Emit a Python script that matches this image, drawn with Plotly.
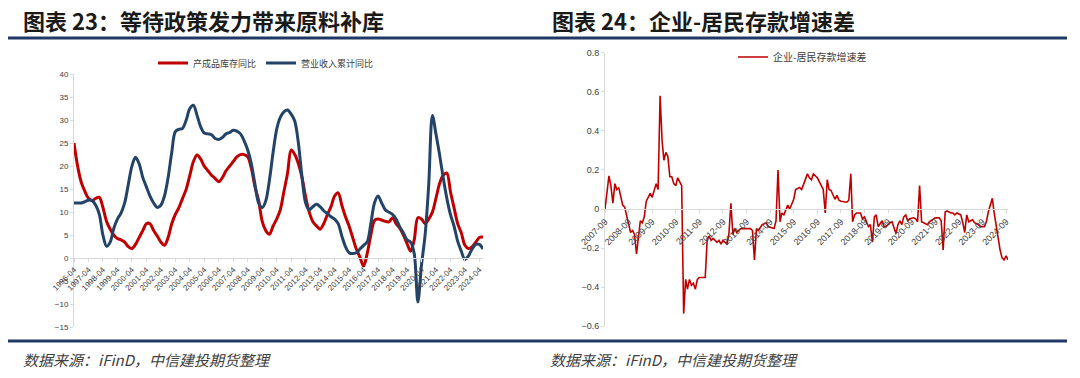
import plotly.graph_objects as go
import pandas as pd

# ---------------- Left chart data (quarterly readings, %) ----------------
left_start = "1996-04-01"
left_end = "2024-07-01"
left_dates = pd.date_range(left_start, left_end, freq="3MS").strftime("%Y-%m-%d").tolist()

inventory_yoy = [  # 产成品库存同比
    25, 20, 16.5,
    14.5, 13, 12.5, 13,
    13.2, 11, 8, 6.3,
    5, 4.3, 4, 3.5,
    2.5, 2.1, 3, 4.5,
    6, 7.5, 7.5, 6,
    4.8, 3.5, 2.8, 4.5,
    7.5, 9.5, 11, 13,
    15, 18, 21, 22.4,
    21.5, 20, 19, 18,
    17.3, 16.6, 17.5, 19,
    20, 21, 22, 22.5,
    22.5, 22, 19.5, 15.5,
    12.5, 8, 6, 5.2,
    7, 8.5, 10.5, 14.5,
    18.5, 23.5, 22.5, 20.5,
    17.5, 13.3, 10, 7.9,
    7, 6.3, 7.5, 9.5,
    11.2, 13.5, 14.2, 11.5,
    9, 7, 4.5, 2,
    0.2, -1.7, 1, 5,
    8.2, 8.5, 8.3, 8,
    7.9, 8.8, 7.5, 6.5,
    5, 3.2, 1.5, 4,
    8.8, 8.5, 7.5, 8.5,
    10, 13, 16.2, 18,
    18.5, 14.5, 11, 7.5,
    5.5, 2.8, 2.1, 2.5,
    3.5, 4.5, 4.6,
]

revenue_yoy = [  # 营业收入累计同比
    12, 12, 12,
    12.3, 12.6, 12.5, 11.5,
    9.5, 5, 2.6, 3.5,
    6.5, 8.5, 9.8, 12,
    16, 20, 21.9, 20.5,
    17.5, 15.5, 13.5, 12,
    11, 11.5, 13.5, 17.5,
    23, 27.5, 28, 28.2,
    30, 32.5, 33.2, 31,
    28.5, 27.2, 27, 26.8,
    26, 25.8, 26.2, 27,
    27.3, 27.8, 27.6, 27,
    25.5, 23.5, 20.5, 16,
    12, 11, 12.5, 17,
    23, 28, 30.6, 31.8,
    32.2, 31.3, 29.8, 25,
    17.5, 12, 10.5, 11.2,
    11.7, 11.2, 10.3, 9.7,
    9, 8.5, 7.5, 4.8,
    2.5, 1.2, 1.0, 1.2,
    2, 2.8, 3.5, 7.5,
    12, 13.5, 12, 10.5,
    10, 9.5, 8.5, 6.8,
    5.5, 4, 3.5, 1,
    -9.5, -1.5, 5, 16,
    31, 27, 22.5, 17.5,
    13, 9.5, 7, 3.7,
    1.5, -0.3, 0.5, 2,
    3, 3, 2,
]

left_tick_text = [f"{y}-04" for y in range(1996, 2025)]
left_tick_vals = [f"{y}-04-01" for y in range(1996, 2025)]
left_y_ticks = [40, 35, 30, 25, 20, 15, 10, 5, 0, -5, -10, -15]

# ---------------- Right chart data (monthly readings) ----------------
right_dates = [
    "2007-09", "2007-10", "2007-11", "2007-12",
    "2008-01", "2008-02", "2008-03", "2008-04", "2008-05", "2008-06", "2008-07", "2008-08", "2008-10", "2008-11", "2008-12",
    "2009-01", "2009-02", "2009-03", "2009-04", "2009-05", "2009-06", "2009-08", "2009-09", "2009-10", "2009-11", "2009-12",
    "2010-01", "2010-02", "2010-03", "2010-04", "2010-05", "2010-06", "2010-07", "2010-08", "2010-09", "2010-10", "2010-11", "2010-12",
    "2011-01", "2011-02", "2011-03", "2011-04", "2011-05", "2011-06", "2011-07", "2011-08", "2011-09", "2011-10", "2011-12",
    "2012-01", "2012-02", "2012-03", "2012-04", "2012-06", "2012-07", "2012-08", "2012-09", "2012-11", "2012-12",
    "2013-01", "2013-02", "2013-03", "2013-04", "2013-06", "2013-07", "2013-09", "2013-11", "2013-12",
    "2014-01", "2014-02", "2014-03", "2014-05", "2014-07", "2014-08", "2014-11", "2014-12",
    "2015-01", "2015-02", "2015-03", "2015-04", "2015-06", "2015-07", "2015-09", "2015-10", "2015-12",
    "2016-01", "2016-03", "2016-04", "2016-05", "2016-06", "2016-07", "2016-09", "2016-10", "2016-11", "2016-12",
    "2017-01", "2017-02", "2017-03", "2017-04", "2017-06", "2017-07", "2017-08", "2017-09", "2017-12",
    "2018-01", "2018-02", "2018-03", "2018-04", "2018-05", "2018-07", "2018-08", "2018-09", "2018-10", "2018-11", "2018-12",
    "2019-01", "2019-02", "2019-03", "2019-04", "2019-06", "2019-07", "2019-08", "2019-10", "2019-11",
    "2020-01", "2020-02", "2020-03", "2020-04", "2020-05", "2020-06", "2020-07", "2020-08", "2020-10", "2020-11", "2020-12",
    "2021-01", "2021-02", "2021-03", "2021-05", "2021-06", "2021-09", "2021-11", "2021-12",
    "2022-01", "2022-02", "2022-03", "2022-05", "2022-06", "2022-07", "2022-08", "2022-10", "2022-11", "2022-12",
    "2023-01", "2023-02", "2023-04", "2023-05", "2023-07", "2023-08", "2023-10", "2023-11", "2023-12",
    "2024-02", "2024-03", "2024-04", "2024-05", "2024-06", "2024-07", "2024-08", "2024-09", "2024-10",
]
deposit_gap = [  # 企业-居民存款增速差
    0.0, 0.10, 0.17, 0.12,
    0.03, 0.13, 0.10, 0.11, 0.06, 0.02, 0.01, -0.04, -0.12, -0.11, -0.13,
    -0.23, -0.14, -0.06, -0.07, -0.04, 0.04, 0.08, 0.06, 0.10, 0.13, 0.10,
    0.58, 0.35, 0.25, 0.29, 0.27, 0.165, 0.165, 0.13, 0.12, 0.16, 0.14, 0.12,
    -0.535, -0.36, -0.41, -0.36, -0.39, -0.38, -0.41, -0.36, -0.35, -0.35, -0.35,
    -0.15, -0.14, -0.16, -0.15, -0.17, -0.16, -0.18, -0.16, -0.18, -0.13,
    0.03, -0.13, -0.10, -0.12, -0.10, -0.10, -0.10, -0.10, -0.11,
    -0.26, -0.10, -0.11, -0.08, -0.07, -0.09, -0.10, -0.06,
    0.20, -0.065, -0.02, -0.03, 0.02, 0.0, 0.05, 0.10, 0.11,
    0.10, 0.16, 0.18, 0.16, 0.15, 0.18, 0.16, 0.14, 0.12, 0.10,
    -0.02, 0.15, 0.10, 0.095, 0.05, 0.07, 0.045, 0.04, 0.035,
    0.045, 0.18, -0.065, -0.03, -0.02, -0.02, -0.05, -0.04, -0.065, -0.09, -0.08,
    -0.17, -0.04, -0.03, -0.09, -0.06, -0.09, -0.09, -0.07, -0.065,
    -0.125, -0.08, -0.06, -0.08, -0.04, -0.03, -0.06, -0.05, -0.045, -0.05, -0.065,
    0.12, -0.065, -0.07, -0.08, -0.065, -0.045, -0.045, -0.06,
    -0.21, -0.015, -0.01, -0.02, -0.02, -0.03, -0.02, -0.03, -0.07, -0.12,
    -0.03, -0.065, -0.055, -0.07, -0.08, -0.09, -0.09, -0.065, -0.015,
    0.055, -0.02, -0.08, -0.16, -0.21, -0.25, -0.26, -0.24, -0.26,
]
right_tick_text = [f"{y}-09" for y in range(2007, 2025)]
right_tick_vals = [f"{y}-09-01" for y in range(2007, 2025)]
right_y_ticks = [0.8, 0.6, 0.4, 0.2, 0, -0.2, -0.4, -0.6]

# ---------------- Styling ----------------
W, H = 1080, 378
RED = "#C00000"
BLUE = "#234369"
NAVY = "#1F3864"
AXIS = "#D9D9D9"
TICKC = "#404040"
CJK = "Noto Sans CJK SC"


def px(x):
    return x / W


def py(y):
    return 1 - y / H


fig = go.Figure()
fig.add_trace(go.Scatter(x=left_dates, y=inventory_yoy, name="产成品库存同比", mode="lines",
                         line=dict(color=RED, width=3, shape="spline", smoothing=0.9),
                         xaxis="x", yaxis="y", legend="legend"))
fig.add_trace(go.Scatter(x=left_dates, y=revenue_yoy, name="营业收入累计同比", mode="lines",
                         line=dict(color=BLUE, width=3, shape="spline", smoothing=0.9),
                         xaxis="x", yaxis="y", legend="legend"))
fig.add_trace(go.Scatter(x=right_dates, y=deposit_gap, name="企业-居民存款增速差", mode="lines",
                         line=dict(color=RED, width=1.6),
                         xaxis="x2", yaxis="y2", legend="legend2"))

common_x = dict(type="date", showline=True, linecolor=AXIS, linewidth=1, ticks="outside",
                ticklen=3, tickcolor=AXIS, tickangle=-45, showgrid=False, zeroline=False,
                anchor="free", automargin=False)
common_y = dict(showline=True, linecolor=AXIS, linewidth=1, ticks="outside", ticklen=3,
                tickcolor=AXIS, showgrid=False, zeroline=False, automargin=False)

fig.update_layout(
    width=W, height=H, margin=dict(l=0, r=0, t=0, b=0, pad=0, autoexpand=False),
    autosize=False,
    paper_bgcolor="white", plot_bgcolor="white",
    xaxis=dict(common_x, domain=[px(74), px(483)], position=py(258),
               range=[left_start, left_end], tickvals=left_tick_vals, ticktext=left_tick_text,
               tickfont=dict(family="Liberation Sans", size=8, color=TICKC)),
    yaxis=dict(common_y, domain=[py(327.3), py(74)], range=[-15, 40], anchor="x",
               tickvals=left_y_ticks,
               tickfont=dict(family="Liberation Sans", size=8, color=TICKC)),
    xaxis2=dict(common_x, domain=[px(605), px(1008)], position=py(209),
                range=["2007-09-01", "2024-10-01"], tickvals=right_tick_vals, ticktext=right_tick_text,
                tickfont=dict(family="Liberation Sans", size=9, color=TICKC)),
    yaxis2=dict(common_y, domain=[py(326.3), py(52.7)], range=[-0.6, 0.8], anchor="x2",
                tickvals=right_y_ticks,
                tickfont=dict(family="Liberation Sans", size=9, color=TICKC)),
    legend=dict(x=px(153), y=py(63), xanchor="left", yanchor="middle", orientation="h",
                font=dict(family=CJK, size=9, color="#404040"), bgcolor="rgba(0,0,0,0)",
                itemwidth=30, tracegroupgap=0),
    legend2=dict(x=px(733), y=py(57), xanchor="left", yanchor="middle", orientation="h",
                 font=dict(family=CJK, size=10, color="#404040"), bgcolor="rgba(0,0,0,0)",
                 itemwidth=30),
)

# titles and sources
texts = [
    (21, 20, "图表 23：等待政策发力带来原料补库", 22, "bold", "normal", "#1A1A1A"),
    (550, 20, "图表 24：企业-居民存款增速差", 22, "bold", "normal", "#1A1A1A"),
    (21, 359, "数据来源：iFinD，中信建投期货整理", 15, "normal", "italic", "#404040"),
    (548, 359, "数据来源：iFinD，中信建投期货整理", 15, "normal", "italic", "#404040"),
]
for x, y, t, s, w, st, c in texts:
    fig.add_annotation(x=px(x), y=py(y), xref="paper", yref="paper", text=t, showarrow=False,
                       xanchor="left", yanchor="middle",
                       font=dict(family=CJK, size=s, weight=w, style=st, color=c))

# horizontal rules
for y in (38, 341):
    fig.add_shape(type="line", xref="paper", yref="paper", x0=px(8), x1=px(1067),
                  y0=py(y), y1=py(y), line=dict(color=NAVY, width=3))

# the page body's default 8px margin would offset the figure; remove it
fig.write_html("out.html", config={"displayModeBar": False},
               post_script="document.body.style.margin='0px';")
